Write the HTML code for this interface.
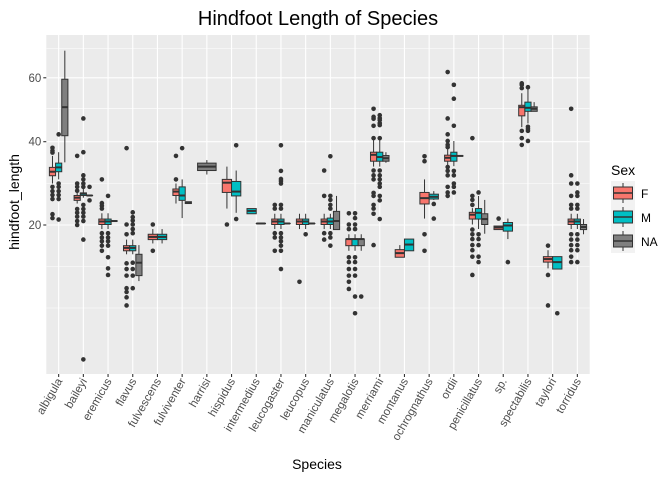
<!DOCTYPE html>
<html><head><meta charset="utf-8"><style>
body{margin:0;background:#fff;}
svg{display:block;font-family:"Liberation Sans",sans-serif;}
</style></head><body>
<svg id="chart" width="672" height="480" viewBox="0 0 672 480">
<rect x="0" y="0" width="672" height="480" fill="#fff"/>
<g id="panel"></g>
<text x="318" y="25" text-anchor="middle" font-size="20" fill="#000">Hindfoot Length of Species</text>
<text x="317" y="469" text-anchor="middle" font-size="14" fill="#000">Species</text>
<text transform="translate(19,202) rotate(-90)" text-anchor="middle" font-size="14" fill="#000">hindfoot_length</text>
<g id="legend"></g>
</svg>
<script>
const categories=["albigula","baileyi","eremicus","flavus","fulvescens","fulviventer","harrisi","hispidus","intermedius","leucogaster","leucopus","maniculatus","megalotis","merriami","montanus","ochrognathus","ordii","penicillatus","sp.","spectabilis","taylori","torridus"];
const yTicks=[20,40,60];
const yMinor=[29.1,12.6,6.9,49.9,70.5];
const sexes=["F","M","NA"];
// [lower whisker, q1, median, q3, upper whisker]
const statsF=[[29.1,31.0,32.0,33.1,36.1],[24.5,25.2,25.8,26.3,27.0],[19.2,20.1,20.7,21.2,22.4],[14.6,15.2,15.7,16.1,17.2],[16.5,17.2,17.7,18.2,19.2],[24.5,26.3,27.2,27.8,29.1],null,[23.4,27.0,29.3,30.1,33.3],null,[19.2,20.1,20.7,21.2,22.3],[19.2,20.1,20.7,21.2,22.3],[19.2,20.1,20.7,21.2,22.3],[15.2,16.1,17.3,17.3,18.2],[33.3,34.7,36.4,37.1,41.0],[14.1,14.1,14.8,15.4,16.2],[21.3,24.4,25.7,27.0,30.1],[33.4,34.7,35.6,36.3,40.2],[20.1,21.2,22.1,22.6,23.5],[19.1,19.1,19.5,19.8,19.8],[44.2,47.6,50.3,50.9,54.8],[12.3,13.3,13.8,14.2,15.3],[19.2,20.1,20.7,21.2,22.3]];
const statsM=[[30.1,32.0,33.1,34.2,37.1],[25.8,26.3,26.7,26.9,28.3],[19.2,20.1,20.7,21.2,22.4],[14.6,15.2,15.7,16.1,17.2],[16.5,17.2,17.7,18.2,19.2],[21.4,25.2,26.3,28.3,30.1],null,[22.5,26.2,27.2,29.6,32.3],[22.3,22.3,22.9,23.4,23.4],[19.2,20.1,20.7,21.2,22.3],[19.2,20.1,20.7,21.2,22.3],[19.2,20.1,20.7,21.4,22.3],[15.2,16.1,17.3,17.3,18.2],[33.3,34.7,35.8,37.1,41.0],[15.2,15.2,16.3,17.3,17.3],[25.3,25.5,26.0,26.6,27.3],[33.4,34.7,36.1,37.1,40.2],[19.2,21.2,22.5,23.4,26.2],[17.3,18.8,19.9,20.5,21.3],[45.3,49.0,50.1,51.9,56.8],[12.2,12.2,13.3,14.2,14.2],[19.2,20.1,20.7,21.2,22.3]];
const statsNA=[[34.4,41.7,50.3,59.5,69.7],[26.3,26.3,26.3,26.3,26.3],[20.8,20.8,20.8,20.8,20.8],[10.4,11.2,13.2,14.6,16.2],null,[24.5,24.5,24.7,24.9,24.9],[31.3,32.3,33.3,34.2,35.0],null,[20.3,20.3,20.3,20.3,20.3],[20.3,20.3,20.3,20.3,20.3],[20.3,20.3,20.3,20.3,20.3],[19.1,19.1,20.8,22.8,26.2],[15.2,16.1,17.3,17.3,18.2],[34.3,34.7,35.5,36.2,37.1],null,null,[36.1,36.1,36.1,36.1,36.1],[18.3,20.1,21.2,22.3,25.3],null,[49.0,49.0,49.8,50.4,51.9],null,[18.2,19.1,19.6,20.1,21.2]];
const outF=[[38.3,37.5,37.0,28.3,27.3,26.4,25.5,22.2,21.4],[36.1,29.1,28.3,27.4,23.3,22.5,21.7,20.8,20.0],[30.1,24.6,24.0,23.4,18.4,17.6,16.9,16.1,15.2],[38.2,20.1,18.2,13.1,12.2,11.2,9.4,8.9,8.2,7.2],[20.1,15.2],[36.1,30.1],[],[20.1],[],[24.2,23.4,18.4,17.6,15.2],[10.3],[32.3,26.2,18.4,17.2],[22.4,20.1,19.2,14.1,13.3,12.2,11.2,10.3,9.3],[49.8,47.3,46.7,44.6,41.0,32.3,31.1,30.1,26.9,26.2,24.2,23.4,22.3,16.2],[],[36.0,34.7,18.2,15.2],[62.0,46.8,42.1,40.2,39.1,38.5,33.2,32.2,31.1,28.3,27.0,26.2],[41.0,26.2,25.3,24.2,19.1,18.2,17.3,16.2,15.3,14.2,11.3],[21.3],[58.1,57.6,56.5,43.1,41.0,39.1],[16.1,11.3,7.2],[49.8,31.1,29.1,26.2,24.2,23.4,18.2,17.2,16.2,15.3,14.2,13.3]];
const outM=[[42.1,29.1,28.3,27.3,26.4,25.5,21.1],[46.8,37.1,31.1,30.1,29.1,28.3,24.2,23.3,22.5,21.7,20.8,17.2,2.2],[26.2,18.4,17.6,16.9,16.1,14.1,12.3,11.3],[22.6,21.6,20.9,20.1,19.2,18.4,13.2,12.2,11.2,9.4],[],[38.2],[],[39.0,21.2],[],[39.0,32.2,30.2,29.7,29.1,24.2,23.4,18.4,17.6,16.9,16.1,15.2,12.2],[18.2],[36.0,26.2,25.3,24.2,23.4,18.4,17.6,16.1],[22.4,21.4,20.1,19.2,14.1,13.3,12.2,11.2,8.3,6.3],[47.8,46.9,46.3,45.4,44.8,41.0,32.3,31.1,30.1,29.1,28.3,26.2,25.2,21.2],[],[24.4,21.3],[57.6,53.0,44.6,32.2,31.1,29.1,28.3,27.0],[27.0,18.2,17.3,16.2,14.2,13.3],[13.3],[56.8,44.3,43.7,43.1,40.2],[6.3],[29.1,27.0,26.2,24.2,23.4,18.2,17.2,16.2,15.3,13.3]];
const outNA=[[],[28.3,25.2],[],[],[],[],[],[],[],[],[],[],[8.3],[],[],[],[],[],[],[],[],[]];

const colors={F:"#F8766D",M:"#00BFC4",NA:"#7F7F7F"};
const P={l:46.3,r:589.7,t:35,b:374};
const band=(P.r-P.l)/categories.length;
function xScale(i){return P.l+band*(i+0.5);}
function yScale(v){return 225-(Math.sqrt(v)-Math.sqrt(20))*44.97;}
const NS="http://www.w3.org/2000/svg";
function mk(tag,attrs,parent){const e=document.createElementNS(NS,tag);for(const k in attrs)e.setAttribute(k,attrs[k]);parent.appendChild(e);return e;}
const panel=document.getElementById('panel');
mk('rect',{x:P.l,y:P.t,width:P.r-P.l,height:P.b-P.t,fill:'#EBEBEB'},panel);
yMinor.forEach(v=>{const y=yScale(v);if(y>P.t&&y<P.b){const l=mk('line',{x1:P.l,x2:P.r,y1:y,y2:y,stroke:'#fff','stroke-width':0.55},panel);

}});
yTicks.forEach(v=>{const y=yScale(v);const l=mk('line',{x1:P.l,x2:P.r,y1:y,y2:y,stroke:'#fff','stroke-width':1.1},panel);


const t=mk('line',{x1:P.l-3,x2:P.l,y1:y,y2:y,stroke:'#333','stroke-width':1.1},panel);


const tx=mk('text',{x:P.l-5,y:y+4,'text-anchor':'end','font-size':11.5,fill:'#4D4D4D'},panel);tx.textContent=v;

});
categories.forEach((c,i)=>{const x=xScale(i);const l=mk('line',{x1:x,x2:x,y1:P.t,y2:P.b,stroke:'#fff','stroke-width':1.1},panel);


const t=mk('line',{x1:x,x2:x,y1:P.b,y2:P.b+3,stroke:'#333','stroke-width':1.1},panel);


const tx=mk('text',{transform:`translate(${x+4},${P.b+7}) rotate(-60)`,'text-anchor':'end','font-size':11.5,fill:'#4D4D4D'},panel);tx.textContent=c;

});
const allStats={F:statsF,M:statsM,NA:statsNA};const allOut={F:outF,M:outM,NA:outNA};
categories.forEach((c,i)=>{
  const present=sexes.filter(s=>allStats[s][i]);
  const n=present.length;const tot=band*0.75;const w=tot/n;
  present.forEach((s,j)=>{
    const st=allStats[s][i];const x0=xScale(i)-tot/2+j*w;const cx=x0+w/2;
    const g=mk('g',{},panel);
    
    
    mk('line',{x1:cx,x2:cx,y1:yScale(st[4]),y2:yScale(st[3]),stroke:'#333','stroke-width':1},g);
    mk('line',{x1:cx,x2:cx,y1:yScale(st[1]),y2:yScale(st[0]),stroke:'#333','stroke-width':1},g);
    const yt=yScale(st[3]),yb=yScale(st[1]);
    mk('rect',{x:x0,y:yt,width:w,height:Math.max(yb-yt,0.01),fill:colors[s],stroke:'#333','stroke-width':1},g);
    const ym=yScale(st[2]);
    mk('line',{x1:x0,x2:x0+w,y1:ym,y2:ym,stroke:'#333','stroke-width':2},g);
    allOut[s][i].forEach(v=>{const p=mk('circle',{cx:cx,cy:yScale(v),r:2.3,fill:'#333'},panel);
      
      });
  });
});
const leg=document.getElementById('legend');
const lt=mk('text',{x:611,y:175,'font-size':14,fill:'#000'},leg);lt.textContent='Sex';


sexes.forEach((s,k)=>{const y0=181+k*24;const g=mk('g',{},leg);
  
  
  mk('rect',{x:611,y:y0,width:24,height:24,fill:'#F2F2F2'},g);
  mk('line',{x1:623,x2:623,y1:y0+2,y2:y0+22,stroke:'#333','stroke-width':1},g);
  mk('rect',{x:613.5,y:y0+6,width:19,height:12,fill:colors[s],stroke:'#333','stroke-width':1},g);
  mk('line',{x1:613.5,x2:632.5,y1:y0+12,y2:y0+12,stroke:'#333','stroke-width':1.5},g);
  const t=mk('text',{x:641,y:y0+17,'font-size':12,fill:'#000'},g);t.textContent=s;});
</script>
</body></html>
